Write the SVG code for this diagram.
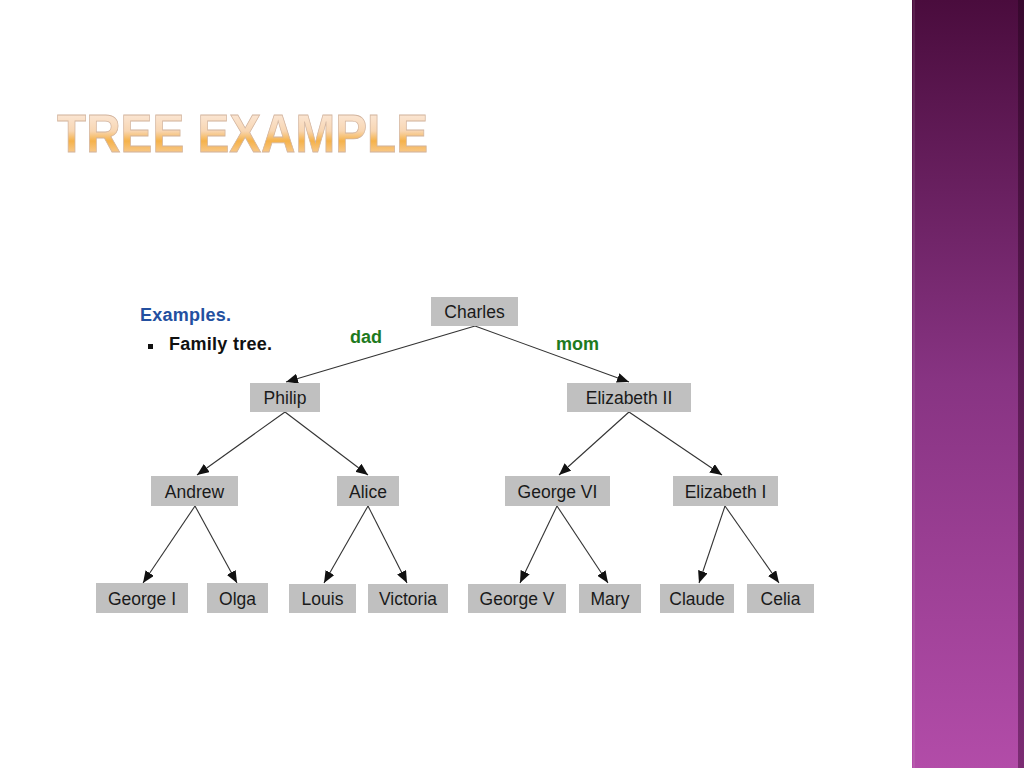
<svg xmlns="http://www.w3.org/2000/svg" width="1024" height="768" viewBox="0 0 1024 768">
<defs>
<linearGradient id="band" x1="0" y1="0" x2="0" y2="1">
<stop offset="0" stop-color="#4a0c3d"/>
<stop offset="0.5" stop-color="#883483"/>
<stop offset="1" stop-color="#b24ca8"/>
</linearGradient>
<linearGradient id="bandEdge" x1="0" y1="0" x2="0" y2="1">
<stop offset="0" stop-color="#33072a"/>
<stop offset="1" stop-color="#6e2466"/>
</linearGradient>
<linearGradient id="title" x1="0" y1="113" x2="0" y2="153" gradientUnits="userSpaceOnUse">
<stop offset="0" stop-color="#fbe7d6"/>
<stop offset="0.45" stop-color="#f8d6b2"/>
<stop offset="0.7" stop-color="#f5b24a"/>
<stop offset="1" stop-color="#f8c98c"/>
</linearGradient>
<marker id="arr" markerUnits="userSpaceOnUse" markerWidth="12" markerHeight="10" refX="12" refY="5" orient="auto">
<path d="M0,0 L12,5 L0,10 z" fill="#111"/>
</marker>
<style>
.node rect{fill:#c0c0c0}
.node text{font-family:"Liberation Sans",Arial,sans-serif;font-size:17.5px;fill:#1a1a1a;text-anchor:middle}
#connectors line{stroke:#333;stroke-width:1.1;marker-end:url(#arr)}
.lbl{font-family:"Liberation Sans",Arial,sans-serif;font-weight:bold;font-size:18px}
</style>
</defs>
<rect width="1024" height="768" fill="#ffffff"/>
<rect x="912" y="0" width="112" height="768" fill="url(#band)"/>
<rect x="913" y="0" width="2" height="768" fill="#ffffff" opacity="0.08"/>
<rect x="1018" y="0" width="6" height="768" fill="url(#bandEdge)" opacity="0.8"/>

<text x="57" y="152" font-family="'Liberation Sans',Arial,sans-serif" font-weight="bold" font-size="54" fill="url(#title)" stroke="#d2b49e" stroke-width="0.8" textLength="371" lengthAdjust="spacingAndGlyphs">TREE EXAMPLE</text>

<text x="140" y="321" class="lbl" fill="#2350a0" textLength="91">Examples.</text>
<rect x="148" y="344" width="5" height="5" fill="#111"/>
<text x="169" y="350" class="lbl" fill="#111" textLength="103">Family tree.</text>
<text x="350" y="343" class="lbl" fill="#1e7a1e">dad</text>
<text x="556" y="350" class="lbl" fill="#1e7a1e">mom</text>

<g id="connectors">
<line x1="475" y1="326" x2="286" y2="382"/>
<line x1="475" y1="326" x2="629" y2="382"/>
<line x1="285" y1="412" x2="197" y2="475"/>
<line x1="285" y1="412" x2="368" y2="475"/>
<line x1="629" y1="412" x2="559" y2="475"/>
<line x1="629" y1="412" x2="722" y2="475"/>
<line x1="195" y1="506" x2="143" y2="583"/>
<line x1="195" y1="506" x2="237" y2="583"/>
<line x1="368" y1="506" x2="324" y2="583"/>
<line x1="368" y1="506" x2="407" y2="583"/>
<line x1="557" y1="506" x2="520" y2="583"/>
<line x1="557" y1="506" x2="608" y2="583"/>
<line x1="725" y1="506" x2="699" y2="583"/>
<line x1="725" y1="506" x2="779" y2="583"/>
</g>

<g id="charles" class="node"><rect x="431" y="297" width="87" height="29"/><text x="474.5" y="318">Charles</text></g>
<g id="philip" class="node"><rect x="250" y="383" width="70" height="29"/><text x="285" y="404">Philip</text></g>
<g id="elizabeth2" class="node"><rect x="567" y="383" width="124" height="29"/><text x="629" y="404">Elizabeth II</text></g>
<g id="andrew" class="node"><rect x="151" y="476" width="87" height="30"/><text x="194.5" y="497.5">Andrew</text></g>
<g id="alice" class="node"><rect x="337" y="476" width="62" height="30"/><text x="368" y="497.5">Alice</text></g>
<g id="george6" class="node"><rect x="505" y="476" width="105" height="30"/><text x="557.5" y="497.5">George VI</text></g>
<g id="elizabeth1" class="node"><rect x="673" y="476" width="105" height="30"/><text x="725.5" y="497.5">Elizabeth I</text></g>
<g id="george1" class="node"><rect x="96" y="583" width="92" height="30"/><text x="142" y="604.5">George I</text></g>
<g id="olga" class="node"><rect x="207" y="583" width="61" height="30"/><text x="237.5" y="604.5">Olga</text></g>
<g id="louis" class="node"><rect x="289" y="584" width="67" height="29"/><text x="322.5" y="605">Louis</text></g>
<g id="victoria" class="node"><rect x="368" y="584" width="80" height="29"/><text x="408" y="605">Victoria</text></g>
<g id="george5" class="node"><rect x="468" y="584" width="98" height="29"/><text x="517" y="605">George V</text></g>
<g id="mary" class="node"><rect x="579" y="584" width="62" height="29"/><text x="610" y="605">Mary</text></g>
<g id="claude" class="node"><rect x="660" y="584" width="74" height="29"/><text x="697" y="605">Claude</text></g>
<g id="celia" class="node"><rect x="747" y="584" width="67" height="29"/><text x="780.5" y="605">Celia</text></g>
</svg>
